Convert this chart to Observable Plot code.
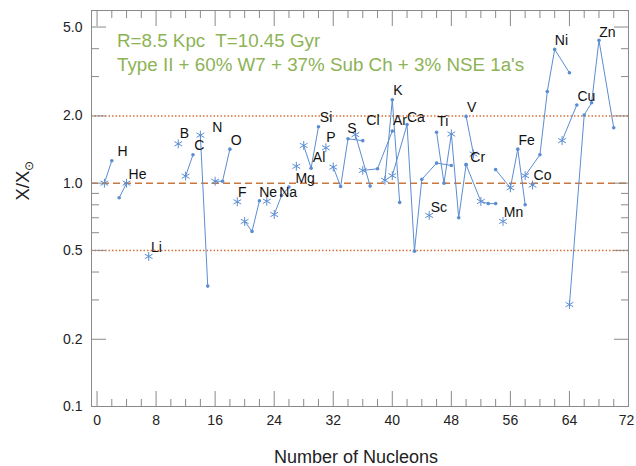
<!DOCTYPE html>
<html>
<head>
<meta charset="utf-8">
<script src="https://cdn.jsdelivr.net/npm/d3@7"></script>
<script src="https://cdn.jsdelivr.net/npm/@observablehq/plot@0.6"></script>
<style>
  html, body { margin: 0; padding: 0; background: #fff; }
</style>
</head>
<body>
<div id="chart"></div>
<script>
// ---- data ----
const isoElement = ["H","H","He","He","Li","B","C","C","N","N","O","O","O","F","Ne","Ne","Ne","Na","Mg","Mg","Mg","Al","Si","Si","Si","P","S","S","S","S","Cl","Cl","Ar","Ar","Ar","K","K","K","Ca","Ca","Ca","Ca","Ca","Ca","Sc","Ti","Ti","Ti","Ti","Ti","V","V","Cr","Cr","Cr","Cr","Mn","Fe","Fe","Fe","Fe","Co","Ni","Ni","Ni","Ni","Ni","Cu","Cu","Zn","Zn","Zn","Zn","Zn"];
const isoMass = [1,2,3,4,7,11,12,13,14,15,16,17,18,19,20,21,22,23,24,25,26,27,28,29,30,31,32,33,34,36,35,37,36,38,40,39,40,41,40,42,43,44,46,48,45,46,47,48,49,50,50,51,50,52,53,54,55,54,56,57,58,59,58,60,61,62,64,63,65,64,66,67,68,70];
const isoRatio = [1.00,1.26,0.86,1.00,0.47,1.50,1.075,1.34,1.64,0.346,1.02,1.02,1.42,0.825,0.674,0.608,0.834,0.83,0.724,0.88,0.96,1.19,1.475,1.167,1.79,1.44,1.18,0.966,1.58,1.55,1.65,0.97,1.14,1.16,1.71,1.03,2.36,0.82,1.08,1.83,0.496,1.04,1.23,1.20,0.717,1.69,1.00,1.66,0.70,1.21,1.99,1.35,1.21,0.828,0.81,0.81,0.674,1.15,0.953,1.42,0.80,0.98,1.08,1.34,2.57,3.97,3.12,1.55,2.24,0.286,2.02,2.29,4.36,1.77];

const elements  = ["H","He","Li","B","C","N","O","F","Ne","Na","Mg","Al","Si","P","S","Cl","Ar","K","Ca","Sc","Ti","V","Cr","Mn","Fe","Co","Ni","Cu","Zn"];
const mainMass  = [1,4,7,11,12,14,16,19,20,23,24,27,28,31,32,35,36,39,40,45,48,51,52,55,56,59,58,63,64];
const labelMass = [3.46,5.49,8.05,11.84,13.86,16.3,18.86,19.68,23.19,25.89,28.19,30.08,31.03,31.7,34.54,37.38,41.03,40.76,43.19,46.3,46.84,50.76,51.57,56.43,58.19,60.35,62.92,66.3,69.14];
const labelRatio = [1.387,1.094,0.515,1.67,1.475,1.776,1.553,0.909,0.909,0.909,1.05,1.303,1.97,1.602,1.758,1.909,1.909,2.60,1.97,0.778,1.89,2.18,1.303,0.739,1.553,1.083,4.355,2.445,4.73];

const dottedLevels = [2.0, 0.5];
const dashedLevels = [1.0];

const xTickLabels = [0,8,16,24,32,40,48,56,64];
const xLastLabel = [72];
const xMajorTicks = [0,8,16,24,32,40,48,56,64];
const xMinorTicks = [2,4,6,10,12,14,18,20,22,26,28,30,34,36,38,42,44,46,50,52,54,58,60,62,66,68,70];
const yMajorTicks = [0.1,0.2,0.5,1,2,5];
const yMinorTicks = [0.3,0.4,0.6,0.7,0.8,0.9,3,4];

const titleLine1 = "R=8.5 Kpc  T=10.45 Gyr";
const titleLine2 = "Type II + 60% W7 + 37% Sub Ch + 3% NSE 1a's";
const xTitle = "Number of Nucleons";
const yTitle = "X/X⊙";

// ---- tables ----
const iso = isoMass.map((m, i) => ({
  el: isoElement[i], A: m, X: isoRatio[i],
  main: mainMass[elements.indexOf(isoElement[i])] === m
}));
const labels = elements.map((el, i) => ({el, A: labelMass[i], X: labelRatio[i]}));

const blue = "#5b8dd2";
const green = "#8db356";
const grey = "#8a8a8a";
const font = "'Liberation Sans', Arial, Helvetica, sans-serif";

const chart = Plot.plot({
  width: 636,
  height: 466,
  marginLeft: 91,
  marginRight: 8,
  marginTop: 10,
  marginBottom: 60,
  style: {fontFamily: font, background: "#fff", color: "#222"},
  x: {domain: [-0.75, 72]},
  y: {type: "log", domain: [0.1, 5.93]},
  marks: [
    Plot.ruleY(dottedLevels, {stroke: "#d9703a", strokeWidth: 1.5, strokeDasharray: "1.5,2"}),
    Plot.ruleY(dashedLevels, {stroke: "#c8773e", strokeWidth: 1.5, strokeDasharray: "7,4"}),
    Plot.line(iso, {x: "A", y: "X", z: "el", stroke: blue, strokeWidth: 1}),
    Plot.dot(iso.filter(d => !d.main), {x: "A", y: "X", r: 1.8, fill: blue}),
    Plot.dot(iso.filter(d => d.main), {x: "A", y: "X", r: 4.2, symbol: "asterisk", stroke: blue, strokeWidth: 1}),
    Plot.text(labels, {x: "A", y: "X", text: "el", fontSize: 14, fill: "#111"}),
    Plot.text([titleLine1], {frameAnchor: "top-left", dx: 25.5, dy: 23.5, lineAnchor: "top", textAnchor: "start", fontSize: 18.8, fill: green}),
    Plot.text([titleLine2], {frameAnchor: "top-left", dx: 25.5, dy: 47, lineAnchor: "top", textAnchor: "start", fontSize: 18.8, fill: green}),
    Plot.frame({stroke: grey}),
    // inward ticks: draw outward ticks shifted back inside the frame
    Plot.axisX(xMajorTicks, {anchor: "bottom", tickSize: 15, dy: -15, fill: "none", stroke: grey}),
    Plot.axisX(xMajorTicks, {anchor: "top", tickSize: 15, dy: 15, fill: "none", stroke: grey}),
    Plot.axisX(xMinorTicks, {anchor: "bottom", tickSize: 7, dy: -7, fill: "none", stroke: grey}),
    Plot.axisX(xMinorTicks, {anchor: "top", tickSize: 7, dy: 7, fill: "none", stroke: grey}),
    Plot.axisX(xTickLabels, {anchor: "bottom", tickSize: 0, tickPadding: 9, fontSize: 14, fill: "#222", label: null}),
    Plot.axisX(xLastLabel, {anchor: "bottom", tickSize: 0, tickPadding: 9, dx: -2, fontSize: 14, fill: "#222", label: null}),
    Plot.axisY(yMajorTicks, {anchor: "left", tickSize: 15, dx: 15, fill: "none", stroke: grey}),
    Plot.axisY(yMajorTicks, {anchor: "right", tickSize: 15, dx: -15, fill: "none", stroke: grey}),
    Plot.axisY(yMinorTicks, {anchor: "left", tickSize: 8, dx: 8, fill: "none", stroke: grey}),
    Plot.axisY(yMinorTicks, {anchor: "right", tickSize: 8, dx: -8, fill: "none", stroke: grey}),
    Plot.axisY(yMajorTicks, {anchor: "left", tickSize: 0, tickPadding: 9, fontSize: 14, fill: "#222", tickFormat: d3.format(".1f"), label: null}),
    Plot.text([xTitle], {frameAnchor: "bottom", dx: -4, dy: 56, lineAnchor: "bottom", fontSize: 18, fill: "#222"}),
    Plot.text([yTitle], {frameAnchor: "left", dx: -63, dy: -8, rotate: -90, lineAnchor: "bottom", fontSize: 18.5, fill: "#222"})
  ]
});

document.getElementById("chart").appendChild(chart);

// subscript the solar symbol in the y title
d3.select(chart).selectAll("text").filter(function () { return this.textContent === yTitle; })
  .each(function () {
    const t = d3.select(this);
    t.text("X/X");
    t.append("tspan").attr("dy", "0.35em").attr("font-size", "12px").text("⊙");
  });
</script>
</body>
</html>
